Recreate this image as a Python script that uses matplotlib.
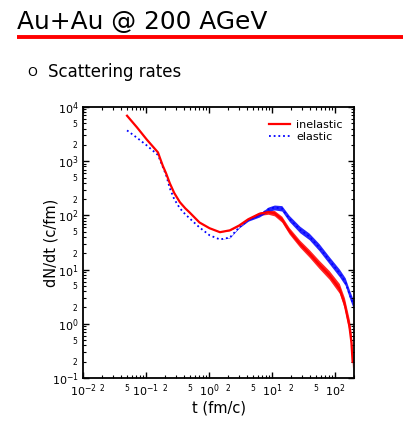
import matplotlib
matplotlib.use("Agg")
import matplotlib.pyplot as plt
import numpy as np
from matplotlib.ticker import LogLocator, FuncFormatter
from matplotlib.lines import Line2D

# ---- data ----
t_inel = [0.05, 0.072, 0.103, 0.155, 0.165, 0.185, 0.208, 0.239, 0.28, 0.345, 0.42,
          0.493, 0.706, 1.02, 1.49, 2.14, 3.0, 4.2, 6.3, 8.7, 10.9, 14.3, 18.7,
          27.6, 38.8, 55.7, 80.5, 117, 141, 169, 182, 190]
y_inel = [6900, 4200, 2500, 1450, 1180, 820, 600, 390, 260, 175, 135,
          113, 74, 58, 49, 53, 65, 85, 107, 115, 110, 85, 52,
          30, 20, 12.5, 8, 4.5, 2.4, 0.9, 0.45, 0.2]
spread_inel = [0, 0, 0, 0, 0, 0, 0, 0, 0, 0, 0,
               0, 0, 0, 0, 0.005, 0.01, 0.02, 0.03, 0.04, 0.05, 0.055, 0.06,
               0.065, 0.07, 0.075, 0.08, 0.09, 0.1, 0.12, 0.14, 0.15]

t_el = [0.05, 0.072, 0.103, 0.155, 0.185, 0.208, 0.239, 0.28, 0.345, 0.42, 0.493,
        0.706, 1.02, 1.49, 2.14, 3.0, 4.2, 6.3, 8.7, 10.9, 14.3, 18.7, 27.6,
        38.8, 55.7, 80.5, 117, 145, 170, 195]
y_el = [3700, 2700, 1950, 1300, 780, 560, 316, 200, 135, 105, 88,
        60, 43, 36, 39, 60, 82, 100, 130, 140, 135, 88, 55,
        41, 26, 15, 8.7, 6, 3.5, 2.3]
spread_el = [0, 0, 0, 0, 0, 0, 0, 0, 0, 0, 0,
             0, 0, 0, 0.005, 0.01, 0.02, 0.03, 0.04, 0.045, 0.05, 0.055, 0.06,
             0.06, 0.065, 0.065, 0.07, 0.07, 0.075, 0.08]

labels = ["inelastic", "elastic"]
title = "Au+Au @ 200 AGeV"
subtitle = "Scattering rates"

RED = "#ff0000"
BLUE = "#0000ff"

W, H = 415, 429
fig = plt.figure(figsize=(W / 100, H / 100), dpi=100)

# header
fig.text(17 / W, 1 - 22 / H, title, fontsize=17.9, family="DejaVu Sans",
         ha="left", va="center", color="black")
fig.add_artist(Line2D([17 / W, 403 / W], [1 - 36.5 / H, 1 - 36.5 / H],
                      transform=fig.transFigure, color=RED, lw=2.8,
                      solid_capstyle="butt"))
fig.text(27 / W, 1 - 72 / H, "O", fontsize=9, family="DejaVu Sans",
         ha="left", va="center")
fig.text(48 / W, 1 - 72 / H, subtitle, fontsize=12, family="DejaVu Sans",
         ha="left", va="center")

ax = fig.add_axes([83 / W, 1 - 378 / H, 271 / W, 271 / H])
ax.set_xscale("log")
ax.set_yscale("log")
ax.set_xlim(0.01, 200)
ax.set_ylim(0.1, 1e4)


def band(t, y, s):
    t = np.asarray(t, float)
    y = np.asarray(y, float)
    s = np.asarray(s, float)
    return t, y * 10 ** (-s), y * 10 ** s


tb, lo, hi = band(t_inel, y_inel, spread_inel)
ax.fill_between(tb, lo, hi, color=RED, lw=0, alpha=0.85)
ax.plot(t_inel, y_inel, color=RED, lw=1.6, label=labels[0])

tb, lo, hi = band(t_el, y_el, spread_el)
ax.fill_between(tb, lo, hi, color=BLUE, lw=0, alpha=0.85, zorder=1)
ax.plot(t_el, y_el, color=BLUE, lw=1.3, ls=(0, (1, 1.6)), label=labels[1],
        zorder=1.5)

# ticks
for axis in (ax.xaxis, ax.yaxis):
    axis.set_major_locator(LogLocator(base=10, numticks=20))
    axis.set_minor_locator(LogLocator(base=10, subs=np.arange(2, 10), numticks=20))


def major_fmt(v, pos):
    e = int(round(np.log10(v)))
    return r"$\mathregular{10^{%d}}$" % e


def minor_fmt_x(v, pos):
    if v > 190:
        return ""
    e = np.floor(np.log10(v) + 1e-9)
    m = int(round(v / 10 ** e))
    return str(m) if m in (2, 5) else ""


def minor_fmt_y(v, pos):
    e = np.floor(np.log10(v) + 1e-9)
    m = int(round(v / 10 ** e))
    return str(m) if m in (2, 5) else ""


ax.xaxis.set_major_formatter(FuncFormatter(major_fmt))
ax.yaxis.set_major_formatter(FuncFormatter(major_fmt))
ax.xaxis.set_minor_formatter(FuncFormatter(minor_fmt_x))
ax.yaxis.set_minor_formatter(FuncFormatter(minor_fmt_y))

ax.tick_params(which="both", direction="in", top=True, right=True, color="black")
ax.tick_params(which="major", length=4, width=1.0, labelsize=8, pad=3)
ax.tick_params(which="minor", length=2, width=0.8, labelsize=5.5, pad=4)
for sp in ax.spines.values():
    sp.set_linewidth(1.3)

ax.set_xlabel("t (fm/c)", fontsize=10.5, va="center")
ax.xaxis.set_label_coords(0.5, -0.111)
ax.set_ylabel("dN/dt (c/fm)", fontsize=10.5, va="center")
ax.yaxis.set_label_coords(-0.117, 0.5)

ax.legend(loc="upper right", bbox_to_anchor=(0.975, 0.97), borderaxespad=0,
          frameon=False, fontsize=8, handlelength=1.9, handletextpad=0.6,
          labelspacing=0.2)

fig.savefig("out.png", dpi=100)
